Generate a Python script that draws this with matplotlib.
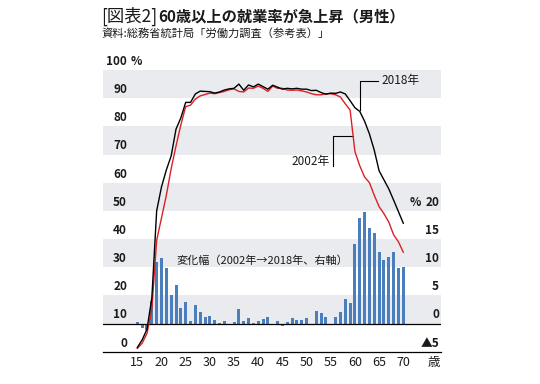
import matplotlib
matplotlib.use("Agg")
import matplotlib.pyplot as plt
import matplotlib.transforms as mtransforms
import numpy as np

plt.rcParams['font.family'] = ['Noto Sans CJK JP', 'DejaVu Sans']

# ages 15 .. 70
ages = np.arange(15, 71)

# employment rate of men, % (left axis)
rate_2018 = [1.5, 4.2, 8.0, 19.0, 50.0, 58.5, 64.5, 69.5, 79.0, 83.0,
             88.5, 88.5, 91.5, 92.5, 92.4, 92.3, 91.8, 92.2, 92.9, 93.3,
             93.5, 95.0, 92.8, 94.7, 94.0, 95.0, 94.1, 93.2, 94.6, 93.9,
             93.2, 93.5, 93.3, 93.5, 93.2, 93.2, 92.7, 92.8, 92.0, 91.4,
             91.8, 91.7, 92.2, 91.5, 89.1, 86.6, 85.3, 81.8, 77.3, 71.5,
             64.2, 61.0, 57.8, 53.8, 49.7, 45.6]
rate_2002 = [1.2, 3.0, 6.5, 15.0, 39.5, 47.5, 55.5, 65.0, 73.0, 80.5,
             87.0, 87.5, 89.7, 90.8, 91.3, 91.8, 91.6, 92.0, 92.4, 93.0,
             93.3, 92.4, 92.2, 93.6, 93.5, 94.3, 93.5, 92.4, 94.3, 93.5,
             93.5, 92.9, 92.8, 92.9, 92.6, 92.2, 91.6, 91.2, 91.2, 91.6,
             91.6, 91.2, 90.4, 88.0, 85.8, 71.0, 66.0, 62.0, 60.0, 55.5,
             51.5, 49.0, 46.0, 41.5, 39.0, 35.3]

# change 2002 -> 2018, points (right axis)
change = [0.3, -0.8, -1.1, 4.0, 10.9, 11.6, 9.9, 5.1, 6.9, 2.7,
          3.9, 0.4, 3.3, 2.1, 1.2, 1.3, 0.7, 0.1, 0.5, 0.0,
          0.2, 2.6, 0.4, 0.9, 0.1, 0.4, 0.8, 1.1, -0.1, 0.4,
          -0.4, 0.3, 0.9, 0.6, 0.6, 1.0, -0.2, 2.3, 1.8, 1.2,
          -0.1, 1.2, 2.1, 4.4, 3.6, 14.1, 18.7, 19.8, 16.9, 16.1,
          12.7, 11.3, 11.8, 12.7, 9.8, 10.1]

left_ticks = list(range(0, 101, 10))
right_ticks = [-5, 0, 5, 10, 15, 20]
x_ticks = list(range(15, 71, 5))

band_col = '#e9ebee'
bar_col = '#4a7ebd'
red = '#dc1f26'
txt = '#1a1a1a'

fig = plt.figure(figsize=(5.4, 3.84), dpi=100)
ax = fig.add_axes([0.1907, 0.0841, 0.626, 0.7336])
ax2 = ax.twinx()
ax.set_zorder(ax2.get_zorder() + 1)
ax.patch.set_visible(False)

ax.set_xlim(7.9, 77.8)
ax.set_ylim(0, 100)
ax2.set_ylim(-5, 45)

# gray bands behind everything
for lo in range(10, 100, 20):
    ax2.axhspan((lo - 10) / 2, (lo) / 2, color=band_col, lw=0, zorder=0)

ax2.bar(ages, change, width=0.62, color=bar_col, zorder=2)
ax2.axhline(0, color='black', lw=0.9, zorder=3)

ax.plot(ages, rate_2002, color=red, lw=1.0, zorder=4)
ax.plot(ages, rate_2018, color='black', lw=1.0, zorder=5)

for a in (ax, ax2):
    for s in ('top', 'left', 'right'):
        a.spines[s].set_visible(False)
    a.set_yticks([])
ax2.spines['bottom'].set_visible(False)
ax.spines['bottom'].set_linewidth(0.9)
ax.spines['bottom'].set_color('black')

ax.set_xticks(x_ticks)
ax.set_xticklabels([str(v) for v in x_ticks], fontsize=9, color=txt)
ax.tick_params(axis='x', length=0, pad=3)
ax2.tick_params(axis='x', length=0, labelbottom=False)

tl = mtransforms.blended_transform_factory(ax.transAxes, ax.transData)
tr = mtransforms.blended_transform_factory(ax2.transAxes, ax2.transData)
for v in left_ticks:
    ax.annotate(str(v), xy=(0.071, v), xycoords=tl, xytext=(0, 1.5),
                textcoords='offset points', ha='right', va='bottom',
                fontsize=8.5, fontweight='bold', color=txt)
ax.annotate('%', xy=(0.083, 100), xycoords=tl, xytext=(0, 1.5),
            textcoords='offset points', ha='left', va='bottom',
            fontsize=8.5, fontweight='bold', color=txt)
for v in right_ticks:
    lab = '▲' + str(-v) if v < 0 else str(v)
    ax2.annotate(lab, xy=(0.994, v), xycoords=tr, xytext=(0, 1.5),
                 textcoords='offset points', ha='right', va='bottom',
                 fontsize=8.5, fontweight='bold', color=txt)
ax2.annotate('%', xy=(0.94, 20), xycoords=tr, xytext=(0, 1.5),
             textcoords='offset points', ha='right', va='bottom',
             fontsize=8.5, fontweight='bold', color=txt)

tb = mtransforms.blended_transform_factory(ax.transData, ax.transAxes)
ax.annotate('歳', xy=(76.4, 0), xycoords=tb, xytext=(0, -3),
            textcoords='offset points', ha='center', va='top',
            fontsize=9, color=txt)

# labels for the lines
ax.plot([64.7, 61.05, 61.05], [96.2, 96.2, 85.9], color='black', lw=0.8)
ax.text(65.4, 96.2, '2018年', ha='left', va='center', fontsize=8.5, color=txt)
ax.plot([55.5, 55.5, 59.6], [66.0, 76.6, 76.6], color='black', lw=0.8)
ax.text(54.8, 67.5, '2002年', ha='right', va='center', fontsize=8.5, color=txt)
ax.text(23.15, 32.2, '変化幅（2002年→2018年、右軸）', ha='left', va='center',
        fontsize=8, color=txt)

fig.text(0.188, 0.958, '[図表2]', ha='left', va='center', fontsize=12.5, color=txt)
fig.text(0.2926, 0.958, '60歳以上の就業率が急上昇（男性）', ha='left', va='center',
         fontsize=11, fontweight='bold', color=txt)
fig.text(0.188, 0.913, '資料:総務省統計局「労働力調査（参考表）」', ha='left',
         va='center', fontsize=8.1, color=txt)

fig.savefig('out.png', dpi=100, facecolor='white')
